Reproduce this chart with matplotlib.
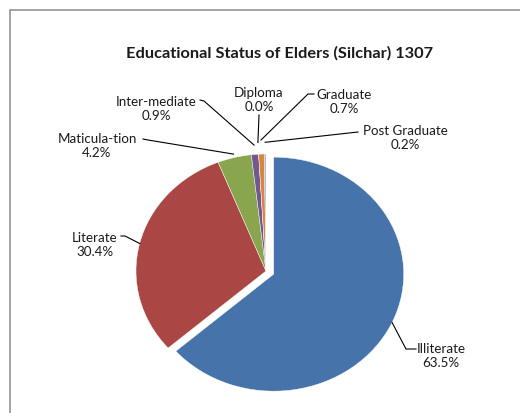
import numpy as np
import matplotlib.pyplot as plt
from matplotlib.patches import Rectangle

labels = ['Illiterate', 'Literate', 'Maticula-tion', 'Inter-mediate', 'Diploma', 'Graduate', 'Post Graduate']
shares = [63.5, 30.4, 4.2, 0.9, 0.0, 0.7, 0.2]
colors = ['#4674AA', '#AA4744', '#89A54E', '#71598F', '#4198AF', '#DB843D', '#93A9CF']
title = 'Educational Status of Elders (Silchar) 1307'

W, H = 520, 414
# pie centre and radii in pixels (the chart is slightly squashed vertically)
CX, CY, RX, RY = 266, 272, 130, 117


def px(x, y):
    # pixel position -> data units of the pie axes
    return (x - CX) / RX, (CY - y) / RY


plt.rcParams['font.family'] = ['Lato', 'DejaVu Sans']

fig = plt.figure(figsize=(W / 100, H / 100), dpi=100)
ax = fig.add_axes([0, 0, 1, 1])
explode = [0.065, 0, 0, 0, 0, 0, 0]
wedges, _ = ax.pie(shares, colors=colors, startangle=90, counterclock=False,
                   explode=explode, wedgeprops=dict(edgecolor='white', linewidth=0.3))
ax.set_aspect('auto')
ax.set_xlim(-CX / RX, (W - CX) / RX)
ax.set_ylim(-(H - CY) / RY, CY / RY)
ax.axis('off')

# label block centres and leader start/elbow points, in pixels
label_xy = [(441, 356), (95, 245), (97, 146), (156, 109), (259, 100), (344, 102), (405, 138)]
leader_xy = [[(416, 350), (406, 350)], [(121, 237), (125, 237)], [(143, 140), (148, 141)],
             [(200, 101), (204, 102)], [(259, 116)], [(314, 95), (308, 95)], [(358, 133)]]
leader_r = [1.0, 1.0, 1.03, 1.08, 1.1, 1.12, 1.1]

for w, lab, v, pos, pts, f in zip(wedges, labels, shares, label_xy, leader_xy, leader_r):
    ang = np.deg2rad((w.theta1 + w.theta2) / 2)
    ax_ = w.center[0] + w.r * f * np.cos(ang)
    ay_ = w.center[1] + w.r * f * np.sin(ang)
    xs = [px(*p)[0] for p in pts] + [ax_]
    ys = [px(*p)[1] for p in pts] + [ay_]
    ax.plot(xs, ys, color='black', lw=0.8)
    tx, ty = px(*pos)
    ax.text(tx, ty, f'{lab}\n{v:.1f}%', ha='center', va='center',
            fontsize=9.6, linespacing=1.25, color='#1a1a1a')

fig.text(280 / W, 1 - 53 / H, title, ha='center', va='center',
         fontsize=11.8, weight='bold', color='#1a1a1a')

fig.add_artist(Rectangle((10 / W, -0.05), 1.2, 1.05 - 11 / H, transform=fig.transFigure,
                         facecolor='none', edgecolor='#8c8c8c', lw=1.1))

fig.savefig('out.png', dpi=100)
